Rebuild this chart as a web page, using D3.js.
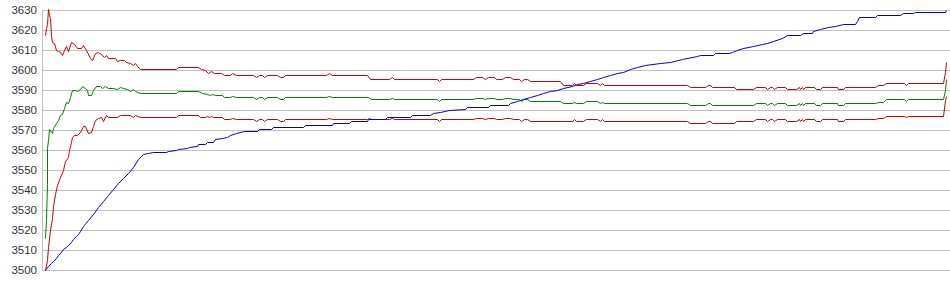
<!DOCTYPE html>
<html>
<head>
<meta charset="utf-8">
<script src="https://cdn.jsdelivr.net/npm/d3@7"></script>
<style>
  body { margin: 0; background: #fff; }
  svg { display: block; }
  .tick-label { font-family: Arial, "Liberation Sans", sans-serif; font-size: 11.5px; fill: #333; }
</style>
</head>
<body>
<svg id="chart" width="950" height="295"></svg>
<script>
// y axis tick labels
const yTicks = [3500, 3510, 3520, 3530, 3540, 3550, 3560, 3570, 3580, 3590, 3600, 3610, 3620, 3630];

// series as [bar, value]; bar 0 is the first sample, bar 901 the last
const upperBand = [
  [0,3617.5],[1,3621],[2,3623],[3,3630.5],[4,3627.5],[5,3626],[6,3617],[7,3614],[9,3613.5],[11,3610],
  [13,3609.5],[15,3609],[17,3607.5],[19,3610],[20.5,3612],[23,3609.5],[26,3614],[29,3613],[32,3611.2],[36,3611.2],
  [38,3612.3],[41,3610],[44.5,3605.8],[46.5,3605.2],[50,3608.3],[53,3609.2],[56.5,3607.7],[59,3606.7],[61,3607.3],[63.5,3606],
  [70,3606],[72,3604.5],[75,3605.2],[79,3605.2],[81,3603.8],[85,3603.5],[87.5,3602.7],[89.5,3603.5],[92,3601.8],[94.5,3600.4],
  [131,3600.3],[133,3601.3],[153,3601.3],[156,3600.5],[160,3599.8],[163,3598.7],[166,3599.3],[169,3598.3],[176,3598.3],[179,3597.5],
  [185,3597.5],[187.5,3598.3],[190.5,3597.5],[208,3597.5],[211,3596.7],[214,3597.5],[217,3597.5],[219,3596.7],[221.5,3597.5],[232,3597.5],
  [235,3596.5],[237.5,3596.5],[240,3597.5],[281,3597.5],[283.5,3598.3],[286.5,3597.5],[321.5,3597.5],[325,3595.5],[344,3595.5],[346.5,3596.3],
  [349,3595.5],[392,3595.5],[393.5,3594.5],[395.5,3595.5],[428,3595.5],[431,3596.3],[437,3596.3],[439.5,3595.5],[442.5,3596.3],[448.5,3596.3],
  [451,3595.5],[457,3595.5],[459.5,3596.3],[465,3596.3],[467.5,3595.5],[473.5,3595.5],[476,3594.7],[478.5,3595.4],[482,3595.4],[484.5,3594.4],
  [515,3594.4],[517.5,3592.6],[526.5,3592.6],[528.5,3593.3],[531,3592.6],[538,3592.6],[541,3593.3],[552,3593.3],[554.5,3592.6],[556.5,3593.3],
  [559,3592.6],[641.5,3592.6],[644.5,3591.5],[660,3591.5],[662.5,3592.5],[665,3592.5],[667,3591.5],[688.5,3591.5],[691,3590.3],[708.5,3590.3],
  [711,3591.5],[720,3591.5],[722,3590.5],[724.5,3591.5],[727,3591.5],[729,3590.5],[731.5,3591.5],[740,3591.5],[742,3590.3],[751,3590.3],
  [753.5,3591.5],[755,3590.5],[756.5,3591.5],[758,3590.5],[760,3591.5],[768.5,3591.5],[770.5,3590.5],[774.5,3590.5],[776.5,3591.5],[791.5,3591.5],
  [793.5,3590.5],[797.5,3590.5],[800,3591.5],[830,3591.5],[832.5,3592.5],[838.5,3592.5],[841,3593.3],[858.5,3593.3],[861,3592.5],[863,3593.3],
  [898,3593.3],[899.5,3599],[901,3604]
];

const middleBand = [
  [0,3516],[0.7,3525],[1.5,3543],[2.5,3561],[3.3,3565],[4.2,3570.3],[6.5,3568.3],[8,3571],[10.5,3573.3],[13,3575],
  [15,3577.3],[17.3,3578.2],[19.2,3580.8],[20.7,3584.2],[23,3583.7],[24.8,3586.7],[26.5,3590.2],[29.5,3590],[32,3589.5],[34.5,3590.3],
  [37,3592.1],[39.5,3590.8],[41.5,3590],[43,3587.5],[46,3587.5],[48,3590.2],[51,3592],[55,3592],[57,3590.8],[59.8,3592],
  [62.5,3591.2],[68,3591.2],[71.5,3590.3],[75,3591.3],[78,3591.2],[81.5,3590.3],[85,3589.7],[87.5,3590.3],[90,3589.7],[94.5,3588.4],
  [131,3588.4],[133.3,3589.5],[153.3,3589.5],[156.5,3588.6],[161.5,3588.2],[164.5,3587.4],[167,3588],[170,3587.4],[176.7,3587.4],[179,3586.3],
  [185,3586.3],[187.5,3587.2],[190.5,3586.3],[208,3586.3],[211,3585.5],[214,3586.3],[217,3586.3],[219,3585.5],[221.5,3586.3],[232,3586.3],
  [235,3585.3],[237.5,3585.3],[240,3586.3],[281,3586.3],[283.5,3587.2],[286.5,3586.3],[323.3,3586.3],[325.7,3585.3],[344,3585.3],[346.5,3586.2],
  [349,3585.3],[392,3585.3],[393.5,3584.6],[395.5,3585.3],[428,3585.3],[431,3586.2],[437,3586.2],[439.5,3585.3],[442.5,3586.2],[448.5,3586.2],
  [451,3585.3],[457,3585.3],[459.5,3586.2],[465,3586.2],[467.5,3585.3],[473.5,3585.3],[476,3584.6],[478.5,3585.3],[482,3585.3],[484.5,3584.4],
  [515,3584.4],[517.5,3583.3],[526.5,3583.3],[528.5,3584.2],[531,3583.3],[538,3583.3],[541,3584.4],[552,3584.4],[554.5,3583.3],[556.5,3584.2],
  [559,3583.3],[641.5,3583.3],[644.5,3582.5],[660,3582.5],[662.5,3583.3],[665,3583.3],[667,3582.5],[708.5,3582.5],[711,3583.3],[720,3583.3],
  [722,3582.5],[724.5,3583.3],[727,3583.3],[729,3582.5],[731.5,3583.3],[740,3583.3],[742,3582.5],[751,3582.5],[753.5,3583.3],[755,3582.5],
  [756.5,3583.3],[758,3582.5],[760,3583.3],[768.5,3583.3],[770.5,3582.5],[774.5,3582.5],[776.5,3583.3],[791.5,3583.3],[793.5,3582.5],[797.5,3582.5],
  [800,3583.3],[830,3583.3],[832.5,3584.2],[838.5,3584.2],[841,3585.3],[858.5,3585.3],[861,3584.5],[863,3585.3],[898,3585.3],[899.5,3590],
  [901,3595.3]
];

const lowerBand = [
  [0,3500],[1.7,3505],[3.3,3511.7],[5,3520],[6.7,3526],[8.3,3532],[10,3538],[12.3,3542.5],[15,3546.7],[17.7,3550],
  [20,3554.7],[22.7,3556.7],[24.3,3560],[25.5,3564],[26.5,3566.5],[29,3567.5],[32.3,3567.5],[35,3569],[37.5,3572.1],[40,3572.1],
  [42.7,3568.7],[45.7,3569.2],[48.3,3572],[50,3574.8],[53.3,3575.8],[55.7,3576.7],[58.3,3574.7],[61,3577.5],[63.5,3576.4],[72,3576.4],
  [74.5,3577.3],[85,3577.3],[87.5,3576.7],[90,3577.3],[94.5,3576.3],[131,3576.3],[133.3,3577.3],[153.3,3577.3],[155,3576.7],[160,3576.5],
  [161.7,3577.2],[163.5,3576.4],[165.5,3577.2],[167.5,3576.4],[176.7,3576.4],[179,3575.3],[185,3575.3],[187.5,3576.2],[190.5,3575.3],[208,3575.3],
  [211,3574.5],[214,3575.3],[217,3575.3],[219,3574.5],[221.5,3575.3],[232,3575.3],[235,3574.3],[237.5,3574.3],[240,3575.3],[281,3575.3],
  [283.5,3576.2],[286.5,3575.3],[321.5,3575.3],[323.7,3576.2],[325.7,3575.3],[344,3575.3],[346.5,3576.2],[349,3575.3],[392,3575.3],[393.5,3574.5],
  [395.5,3575.3],[428,3575.3],[431,3576.2],[437,3576.2],[439.5,3575.3],[442.5,3576.2],[448.5,3576.2],[451,3575.3],[457,3575.3],[459.5,3576.2],
  [465,3576.2],[467.5,3575.3],[473.5,3575.3],[476,3574.5],[478.5,3575.3],[482,3575.3],[484.5,3574.4],[526.5,3574.4],[528.5,3575.3],[531,3574.4],
  [538,3574.4],[541,3575.3],[552,3575.3],[554.5,3574.4],[556.5,3575.3],[559,3574.4],[641.5,3574.4],[644.5,3573.5],[660,3573.5],[662.5,3574.4],
  [665,3574.4],[667,3573.5],[688.5,3573.5],[691,3574.5],[708.5,3574.5],[711,3575.3],[720,3575.3],[722,3574.5],[724.5,3575.3],[727,3575.3],
  [729,3574.5],[731.5,3575.3],[740,3575.3],[742,3574.5],[751,3574.5],[753.5,3575.3],[755,3574.5],[756.5,3575.3],[758,3574.5],[760,3575.3],
  [768.5,3575.3],[770.5,3574.5],[774.5,3574.5],[776.5,3575.3],[791.5,3575.3],[793.5,3574.5],[797.5,3574.5],[800,3575.3],[830,3575.3],[832.5,3576.2],
  [838.5,3576.2],[841,3577.2],[858.5,3577.2],[861,3576.3],[863,3577.2],[898,3577.2],[899.5,3585],[901,3587]
];

const priceLine = [
  [0,3500],[3,3501.8],[6,3503.3],[8.3,3504.3],[11.3,3506],[13.3,3507.5],[15,3508.3],[18.3,3510.3],[21.3,3511.5],[23.3,3512.5],
  [26.3,3514.2],[28.3,3515.3],[31.3,3516.8],[33.3,3517.8],[35,3519.3],[38.3,3522],[43,3525.2],[48,3528],[53,3531.3],[58,3534.5],
  [63.3,3537.5],[68.3,3540.5],[73.3,3543.3],[78.3,3545.8],[83.3,3548.3],[88.3,3551.7],[93.3,3555.3],[96,3557],[98.3,3558],[103.3,3558.5],
  [108.3,3558.8],[121,3559],[123.3,3559.7],[131,3559.9],[133.3,3560.7],[141.7,3560.9],[144.3,3561.7],[151.7,3562],[153.3,3562.8],[160,3562.8],
  [162.3,3563.8],[168.3,3563.8],[170,3565.3],[176.7,3565.8],[181.7,3566.7],[185,3567.5],[191,3568.3],[199,3569.3],[211.7,3569.5],[214.3,3570.3],
  [225.7,3570.4],[227.7,3571.3],[258,3571.3],[260,3572.3],[286.7,3572.3],[288.3,3573.3],[304.3,3573.3],[305.7,3574.3],[321.7,3574.3],[323.3,3575.3],
  [340,3575.3],[341.7,3576.3],[365,3576.3],[367,3577.3],[385,3577.3],[387.5,3578.3],[395,3579.2],[403.5,3580.1],[420,3580.5],[422,3581.5],
  [443.3,3581.6],[445,3582.6],[463,3582.7],[465,3583.5],[471.7,3584.5],[478.3,3585.3],[485,3586.7],[491.7,3587.5],[498.3,3588.7],[505,3589.5],
  [511.7,3590.2],[518.3,3591.2],[526.7,3592],[531.7,3592.8],[538.3,3593.3],[545,3594.5],[551.7,3595.3],[558.3,3596.3],[565,3597.5],[571.7,3598.3],
  [578.3,3599.2],[585,3600.3],[591.7,3601.3],[600,3602.3],[615,3603.3],[625,3604.2],[636.7,3605.3],[651.7,3607],[655,3607.5],[667.7,3607.5],
  [670,3608.3],[684.3,3608.3],[686.7,3609.2],[691.7,3610],[698.3,3611.2],[708.3,3612],[716.7,3612.8],[721.7,3613.7],[728.3,3614.5],[736.7,3616.2],
  [742.3,3617.3],[755,3617.3],[758.3,3618.3],[766.7,3618.3],[768.3,3619.5],[775,3620.3],[783.3,3621.3],[790,3622],[798.3,3623],[810,3623.2],
  [811.7,3624.5],[814.3,3626.3],[830,3626.3],[831.7,3627.3],[855,3627.3],[857.7,3628.3],[868.3,3628.3],[870,3629.2],[900,3629.2],[901,3630]
];

const svg = d3.select("#chart");
const width = +svg.attr("width");

const x = d3.scaleLinear().domain([0, 901]).range([45, 946]);
const y = d3.scaleLinear().domain([3500, 3630]).range([270, 10]);

// horizontal grid
svg.append("g")
    .selectAll("line")
    .data(yTicks)
    .enter()
    .append("line")
    .attr("x1", 42)
    .attr("x2", width)
    .attr("y1", d => Math.round(y(d)) + 0.5)
    .attr("y2", d => Math.round(y(d)) + 0.5)
    .attr("stroke", "#c0c0c0")
    .attr("stroke-width", 1);

// left axis line
svg.append("line")
    .attr("x1", 42.5).attr("x2", 42.5)
    .attr("y1", y(3630)).attr("y2", y(3500) + 1)
    .attr("stroke", "#c0c0c0");

// tick labels
svg.append("g")
    .selectAll("text")
    .data(yTicks)
    .enter()
    .append("text")
    .attr("class", "tick-label")
    .attr("x", 37)
    .attr("y", d => y(d))
    .attr("dy", "0.36em")
    .attr("text-anchor", "end")
    .text(d => d);

// snap values to pixel centres so the thin lines stay sharp
const line = d3.line()
    .x(d => Math.round(x(d[0])) + 0.5)
    .y(d => Math.round(y(d[1])) + 0.5);

const series = [
    { data: upperBand, color: "#cc0000" },
    { data: lowerBand, color: "#cc0000" },
    { data: middleBand, color: "#008000" },
    { data: priceLine, color: "#0000cc" }
];

series.forEach(s => {
    svg.append("path")
        .datum(s.data)
        .attr("d", line)
        .attr("fill", "none")
        .attr("stroke", s.color)
        .attr("stroke-width", 1);
});
</script>
</body>
</html>
